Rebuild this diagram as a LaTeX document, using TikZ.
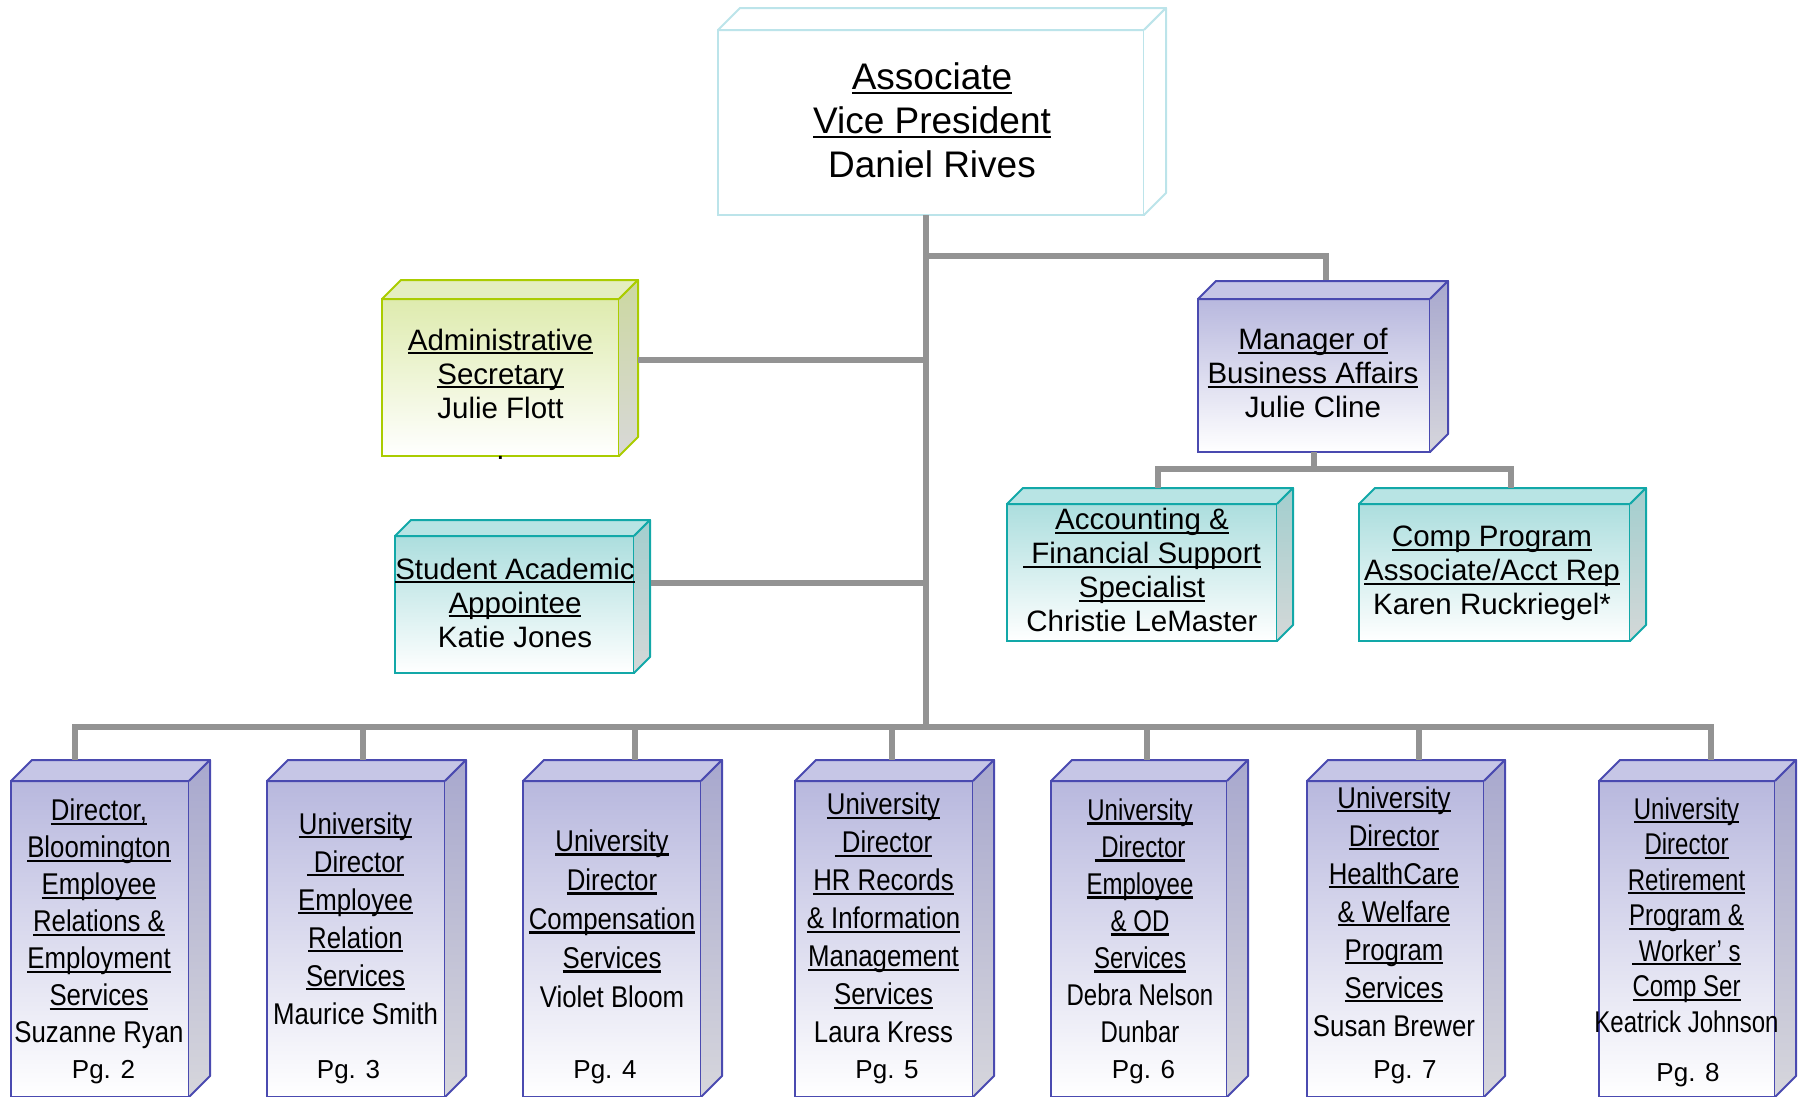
\documentclass[tikz,border=0pt]{standalone}
\usepackage{fontspec}
\setmainfont{Liberation Sans}
\newfontfamily\narrowA[FakeStretch=0.86]{Liberation Sans}
\newfontfamily\narrowB[FakeStretch=0.80]{Liberation Sans}
\newsavebox\ulbox
\newcommand{\uln}[1]{\sbox\ulbox{#1}\rlap{\rule[-0.14em]{\wd\ulbox}{0.075em}}\usebox\ulbox}

\definecolor{bluebd}{HTML}{4A4AB0}
\definecolor{bluefront}{HTML}{B8B8DE}
\definecolor{bluetopf}{HTML}{C6C6E6}
\definecolor{blueside}{HTML}{A8A8CE}
\definecolor{bluesidebot}{HTML}{D6D6DC}
\definecolor{tealbd}{HTML}{12A8A8}
\definecolor{tealfront}{HTML}{ACDEDE}
\definecolor{tealtopf}{HTML}{B8E4E4}
\definecolor{tealside}{HTML}{A2CECE}
\definecolor{tealsidebot}{HTML}{D4D8D8}
\definecolor{greenbd}{HTML}{AACC00}
\definecolor{greenfront}{HTML}{DEEBAE}
\definecolor{greentopf}{HTML}{E4EEC0}
\definecolor{greenside}{HTML}{CCD8A0}
\definecolor{greensidebot}{HTML}{D8D8D8}
\definecolor{whitebd}{HTML}{BCE4EA}
\definecolor{whitefront}{HTML}{FFFFFF}
\definecolor{whitetopf}{HTML}{FFFFFF}
\definecolor{whiteside}{HTML}{FFFFFF}
\definecolor{whitesidebot}{HTML}{FFFFFF}
\definecolor{connc}{HTML}{939393}

\newcommand{\cubefaces}[3]{%
  \draw[#3bd, line width=2pt, fill=#3topf, line join=round]
    (#1.north west) -- ++(#2,-#2) -- ([shift={(#2,-#2)}]#1.north east) -- (#1.north east) -- cycle;
  \shade[top color=#3side, bottom color=#3sidebot]
    (#1.north east) -- ++(#2,-#2) -- ([shift={(#2,-#2)}]#1.south east) -- (#1.south east) -- cycle;
  \draw[#3bd, line width=2pt, line join=round]
    (#1.north east) -- ++(#2,-#2) -- ([shift={(#2,-#2)}]#1.south east) -- (#1.south east);
}

\tikzset{
  frontbox/.style={draw=#1bd, line width=2pt, top color=#1front, bottom color=white,
    inner sep=0pt, outer sep=0pt},
  conn/.style={draw=connc, line width=6pt},
  bigtxt/.style={align=center, inner sep=0pt, font=\fontsize{37}{44}\selectfont},
  midtxt/.style={align=center, inner sep=0pt, font=\fontsize{29.5}{34}\selectfont},
  lowtxt/.style={align=center, inner sep=0pt, font=\narrowA\fontsize{30}{#1}\selectfont},
  lowtxtb/.style={align=center, inner sep=0pt, font=\narrowB\fontsize{30}{#1}\selectfont},
  pgtxt/.style={inner sep=0pt, font=\fontsize{26}{30}\selectfont},
}

\begin{document}
\begin{tikzpicture}[x=1pt, y=-1pt]
\useasboundingbox (0,0) rectangle (1804,1096);

% ---- boxes (front faces)
\node[frontbox=white, minimum width=426pt, minimum height=185pt] (avp) at (931,122.5) {};
\node[frontbox=green, minimum width=237pt, minimum height=157pt] (sec) at (500.5,377.5) {};
\node[frontbox=teal, minimum width=239pt, minimum height=137pt] (saa) at (514.5,604.5) {};
\node[frontbox=blue, minimum width=232pt, minimum height=153pt] (mba) at (1314,375.5) {};
\node[frontbox=teal, minimum width=270pt, minimum height=137pt] (afs) at (1142,572.5) {};
\node[frontbox=teal, minimum width=271pt, minimum height=137pt] (cpa) at (1494.5,572.5) {};
\node[frontbox=blue, minimum width=178pt, minimum height=316pt] (b1) at (100,939) {};
\node[frontbox=blue, minimum width=178pt, minimum height=316pt] (b2) at (356,939) {};
\node[frontbox=blue, minimum width=178pt, minimum height=316pt] (b3) at (612,939) {};
\node[frontbox=blue, minimum width=178pt, minimum height=316pt] (b4) at (884,939) {};
\node[frontbox=blue, minimum width=176pt, minimum height=316pt] (b5) at (1139,939) {};
\node[frontbox=blue, minimum width=177pt, minimum height=316pt] (b6) at (1395.5,939) {};
\node[frontbox=blue, minimum width=176pt, minimum height=316pt] (b7) at (1687,939) {};

\cubefaces{avp}{22}{white}
\cubefaces{sec}{19}{green}
\cubefaces{saa}{16}{teal}
\cubefaces{mba}{18}{blue}
\cubefaces{afs}{16}{teal}
\cubefaces{cpa}{16}{teal}
\foreach \b in {b1,b2,b3,b4,b5,b6,b7}{\cubefaces{\b}{21}{blue}}

% ---- connectors
\coordinate (tx) at (926,727);
\coordinate (mbr) at (926,256);
\coordinate (secj) at (926,360);
\coordinate (saaj) at (926,583);
\draw[conn] (avp.south -| tx) -- (tx);
\draw[conn] (mbr) -| ([shift={(12,-19)}]mba.north);
\draw[conn] ([shift={(19,-17.5)}]sec.east) -- (secj);
\draw[conn] ([shift={(17,-21.5)}]saa.east) -- (saaj);
\coordinate (mj) at (1314,469);
\draw[conn] (mba.south) -- (mj);
\draw[conn] ([shift={(16,-16)}]afs.north) |- (mj) -| ([shift={(16.5,-16)}]cpa.north);
\coordinate (bar1) at (75,727);
\coordinate (bar2) at (363,727);
\coordinate (bar3) at (635,727);
\coordinate (bar4) at (892,727);
\coordinate (bar5) at (1147,727);
\coordinate (bar6) at (1419,727);
\coordinate (bar7) at (1711,727);
\draw[conn] ([xshift=-3pt]bar1) -- ([xshift=3pt]bar7);
\foreach \i in {1,...,7}{
  \coordinate (bt\i) at ([yshift=21pt]b\i.north);
  \draw[conn] (bar\i) -- (bar\i |- bt\i);
}

% ---- texts
\node[bigtxt] (tavp) at (932,124.5) {\strut\uln{Associate}\\\uln{Vice President}\\Daniel Rives\strut};
\node[midtxt] (tsec) at (500.5,398) {\strut\uln{Administrative}\\\uln{Secretary}\\Julie Flott\\[7pt].\strut};
\node[midtxt] (tsaa) at (515,606.5) {\strut\uln{Student Academic}\\\uln{Appointee}\\Katie Jones\strut};
\node[midtxt] (tmba) at (1313,377) {\strut\uln{Manager of}\\\uln{Business Affairs}\\Julie Cline\strut};
\node[midtxt] (tafs) at (1142,574) {\strut\uln{Accounting \&}\\\uln{\ Financial Support}\\\uln{Specialist}\\Christie LeMaster\strut};
\node[midtxt] (tcpa) at (1492,574) {\strut\uln{Comp Program}\\\uln{Associate/Acct Rep}\\Karen Ruckriegel*\strut};

\node[lowtxt=37] (tb1) at (99,924.5) {\strut\uln{Director,}\\\uln{Bloomington}\\\uln{Employee}\\\uln{Relations \&}\\\uln{Employment}\\\uln{Services}\\Suzanne Ryan\strut};
\node[lowtxt=38] (tb2) at (355.5,921.5) {\strut\uln{University}\\\uln{\ Director}\\\uln{Employee}\\\uln{Relation}\\\uln{Services}\\Maurice Smith\strut};
\node[lowtxt=39] (tb3) at (612,921.5) {\strut\uln{University}\\\uln{Director}\\\uln{Compensation}\\\uln{Services}\\Violet Bloom\strut};
\node[lowtxt=38] (tb4) at (883.5,921) {\strut\uln{University}\\\uln{\ Director}\\\uln{HR Records}\\\uln{\& Information}\\\uln{Management}\\\uln{Services}\\Laura Kress\strut};
\node[lowtxtb=37] (tb5) at (1140,924) {\strut\uln{University}\\\uln{\ Director}\\\uln{Employee}\\\uln{\& OD}\\\uln{Services}\\Debra Nelson\\Dunbar\strut};
\node[lowtxt=38] (tb6) at (1394,914.5) {\strut\uln{University}\\\uln{Director}\\\uln{HealthCare}\\\uln{\& Welfare}\\\uln{Program}\\\uln{Services}\\Susan Brewer\strut};
\node[lowtxtb=35.5] (tb7) at (1686.5,918.5) {\strut\uln{University}\\\uln{Director}\\\uln{Retirement}\\\uln{Program \&}\\\uln{\ Worker’ s}\\\uln{Comp Ser}\\Keatrick Johnson\strut};

\node[pgtxt] (pg2) at (103.5,1072) {Pg. 2};
\node[pgtxt] (pg3) at (348.5,1072) {Pg. 3};
\node[pgtxt] (pg4) at (605,1072) {Pg. 4};
\node[pgtxt] (pg5) at (887,1072) {Pg. 5};
\node[pgtxt] (pg6) at (1143.5,1072) {Pg. 6};
\node[pgtxt] (pg7) at (1405,1072) {Pg. 7};
\node[pgtxt] (pg8) at (1688,1075) {Pg. 8};
\end{tikzpicture}
\end{document}
